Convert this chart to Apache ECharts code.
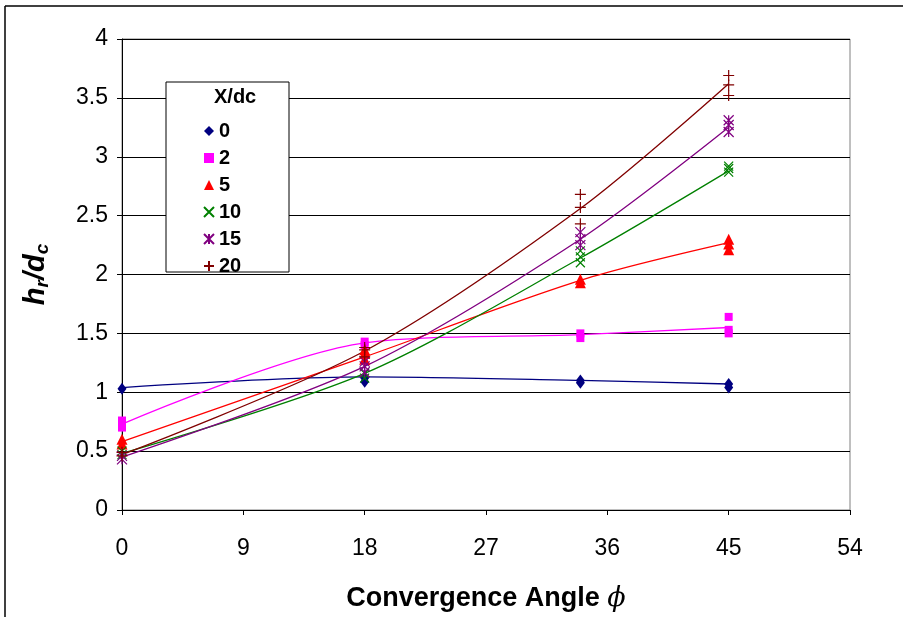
<!DOCTYPE html>
<html>
<head>
<meta charset="utf-8">
<script src="https://cdn.jsdelivr.net/npm/echarts@6/dist/echarts.min.js"></script>
<style>
  html, body { margin: 0; padding: 0; background: #fff; }
  #chart { width: 903px; height: 617px; }
</style>
</head>
<body>
<div id="chart"></div>
<script>
// convergence angles where measurements were taken
var angles = [0, 18, 34, 45];
var groups = ['0', '2', '5', '10', '15', '20'];

// measured hr/dc values, one list per angle
var meas0  = [[1.03], [1.09, 1.12], [1.08, 1.10], [1.04, 1.07]];
var meas2  = [[0.70, 0.76], [1.40, 1.43], [1.46, 1.50], [1.50, 1.53, 1.64]];
var meas5  = [[0.56, 0.60], [1.28, 1.33, 1.36], [1.93, 1.96], [2.21, 2.26, 2.30]];
var meas10 = [[0.47, 0.50], [1.12, 1.16], [2.10, 2.15, 2.20], [2.87, 2.90, 2.92]];
var meas15 = [[0.43, 0.46], [1.17, 1.22, 1.26], [2.25, 2.30, 2.36], [3.21, 3.27, 3.31]];
var meas20 = [[0.46, 0.49], [1.30, 1.36, 1.38], [2.43, 2.57, 2.68], [3.52, 3.61, 3.69]];

// trend line values
var fit0  = [1.04, 1.13, 1.10, 1.07];
var fit2  = [0.73, 1.42, 1.49, 1.55];
var fit5  = [0.58, 1.30, 1.95, 2.27];
var fit10 = [0.48, 1.16, 2.14, 2.88];
var fit15 = [0.45, 1.22, 2.30, 3.25];
var fit20 = [0.47, 1.35, 2.56, 3.62];

var yTicks = [0, 0.5, 1, 1.5, 2, 2.5, 3, 3.5, 4];
var xTicks = [0, 9, 18, 27, 36, 45, 54];

var meas = [meas0, meas2, meas5, meas10, meas15, meas20];
var fits = [fit0, fit2, fit5, fit10, fit15, fit20];
var colors = ['#000080', '#ff00ff', '#ff0000', '#008000', '#800080', '#800000'];
var symbols = [
    'diamond', 'rect', 'triangle',
    'path://M0,0L10,10M10,0L0,10',
    'path://M0,0L10,10M10,0L0,10M5,0L5,10',
    'path://M5,0L5,10M0,5L10,5'
];
var sizes = [[9, 12], 8, 11, 9, 10, 11];

var chart = echarts.init(document.getElementById('chart'));

var series = [];
groups.forEach(function (g, i) {
    var line = [];
    angles.forEach(function (a, j) { line.push([a, fits[i][j]]); });
    series.push({
        name: 'fit' + g,
        type: 'line',
        data: line,
        smooth: 0.3,
        showSymbol: false,
        silent: true,
        z: 2,
        lineStyle: { color: colors[i], width: 1.3 }
    });
});
groups.forEach(function (g, i) {
    var pts = [];
    angles.forEach(function (a, j) {
        meas[i][j].forEach(function (v) { pts.push([a, v]); });
    });
    var stroked = i >= 3;
    series.push({
        name: g,
        type: 'scatter',
        data: pts,
        symbol: symbols[i],
        symbolSize: sizes[i],
        z: 3,
        itemStyle: {
            color: colors[i],
            borderColor: stroked ? colors[i] : null,
            borderWidth: stroked ? 1.2 : 0,
            opacity: 1
        }
    });
});

var tickFont = '"Liberation Sans Narrow", "Liberation Sans", Arial';

var option = {
    animation: false,
    backgroundColor: '#fff',
    grid: {
        left: 122, top: 39, right: 53, bottom: 107,
        outerBoundsMode: 'none',
        containLabel: false,
        show: true, borderColor: '#808080', borderWidth: 1
    },
    graphic: [
        { type: 'line', shape: { x1: 5, y1: 6, x2: 903, y2: 6 }, style: { stroke: '#000', lineWidth: 1.5 } },
        { type: 'line', shape: { x1: 5, y1: 6, x2: 5, y2: 617 }, style: { stroke: '#000', lineWidth: 1.5 } },
        { type: 'rect', shape: { x: 166, y: 82, width: 123, height: 190 },
          style: { fill: '#fff', stroke: '#000', lineWidth: 1 }, z: 10 },
        { type: 'text', left: 214, top: 87, z: 11,
          style: { text: 'X/dc', font: 'bold 20px "Liberation Sans", Arial', fill: '#000' } }
    ],
    legend: {
        data: groups,
        orient: 'vertical',
        left: 198, top: 115,
        itemWidth: 10, itemHeight: 10,
        itemGap: 5,
        z: 12,
        textStyle: { fontFamily: '"Liberation Sans", Arial', fontWeight: 'bold', fontSize: 20, color: '#000', lineHeight: 22 }
    },
    xAxis: {
        type: 'value',
        min: xTicks[0], max: xTicks[xTicks.length - 1], interval: 9,
        name: 'Convergence Angle {phi|ϕ}',
        nameLocation: 'middle',
        nameGap: 75,
        nameTextStyle: {
            fontFamily: '"Liberation Sans", Arial', fontWeight: 'bold', fontSize: 27, color: '#000',
            rich: { phi: { fontFamily: '"DejaVu Serif", serif', fontStyle: 'italic', fontWeight: 'normal', fontSize: 27, color: '#000' } }
        },
        axisLine: { lineStyle: { color: '#000', width: 1 } },
        axisTick: { show: true, inside: false, length: 5, lineStyle: { color: '#000' } },
        axisLabel: { margin: 27, fontFamily: tickFont, fontSize: 23, color: '#000' },
        splitLine: { show: false }
    },
    yAxis: {
        type: 'value',
        min: yTicks[0], max: yTicks[yTicks.length - 1], interval: 0.5,
        name: '{b|h}{s|r}{b|/d}{s|c}',
        nameLocation: 'middle',
        nameGap: 70,
        nameRotate: 90,
        nameTextStyle: {
            rich: {
                b: { fontFamily: '"Liberation Sans", Arial', fontWeight: 'bold', fontStyle: 'italic', fontSize: 29, color: '#000' },
                s: { fontFamily: '"Liberation Sans", Arial', fontWeight: 'bold', fontStyle: 'italic', fontSize: 19, color: '#000', padding: [14, 0, 0, 0] }
            }
        },
        axisLine: { show: true, lineStyle: { color: '#000', width: 1 } },
        axisTick: { show: true, inside: false, length: 5, lineStyle: { color: '#000' } },
        axisLabel: { margin: 14, fontFamily: tickFont, fontSize: 23, color: '#000' },
        splitLine: { show: true, lineStyle: { color: '#000', width: 1 } }
    },
    series: series
};

chart.setOption(option);
</script>
</body>
</html>
